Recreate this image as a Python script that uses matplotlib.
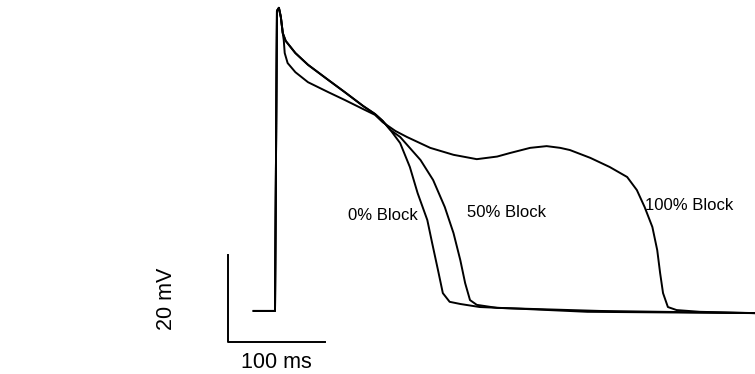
import matplotlib
matplotlib.use("Agg")
import matplotlib.pyplot as plt

# action potentials: time in ms, membrane voltage in mV
t_0 = [-23, -1, 1, 3, 5, 7, 10, 20, 33, 54, 71, 90, 102, 110, 118, 128, 138, 146,
       156, 161, 167, 172, 179, 190, 210, 252, 321, 494]
v_0 = [-85, -85, -16, -15.3, -17.4, -21.1, -22.9, -25.7, -28.4, -31.9, -34.7, -37.9,
       -39.7, -41.3, -43.4, -46.4, -51.9, -57.9, -64.1, -69.4, -75.6, -80.9, -82.9,
       -83.4, -84.1, -84.5, -85.2, -85.5]

t_50 = [-23, -1, 1, 3, 5, 7, 10, 20, 33, 54, 71, 90, 102, 110, 118, 128, 149, 162,
        174, 183, 190, 195, 200, 207, 228, 334, 494]
v_50 = [-85, -85, -16, -15.3, -17.4, -21.1, -22.9, -25.7, -28.4, -31.9, -34.7, -37.9,
        -39.7, -41.3, -43.4, -45.0, -50.3, -54.9, -61.1, -67.1, -73.3, -78.6, -82.5,
        -83.6, -84.3, -85.0, -85.5]

t_100 = [-23, -1, 1, 3, 5, 7, 8, 9, 12, 20, 33, 54, 71, 90, 102, 110, 123, 135, 159,
         183, 207, 228, 241, 262, 279, 293, 303, 324, 344, 362, 372, 380, 388, 393,
         396, 399, 404, 413, 437, 494]
v_100 = [-85, -85, -16, -15.3, -17.4, -21.1, -22.7, -25.7, -28.0, -30.1, -32.4, -34.7,
         -36.5, -38.6, -39.9, -41.6, -43.6, -45.0, -47.5, -49.1, -50.1, -49.5, -48.7,
         -47.5, -47.1, -47.5, -48.0, -49.8, -51.9, -54.2, -57.2, -61.1, -65.7, -71.0,
         -76.3, -80.9, -84.1, -84.8, -85.2, -85.5]

labels = ["0% Block", "50% Block", "100% Block"]

fig = plt.figure(figsize=(7.55, 3.74), dpi=100)
ax = fig.add_axes([0, 0, 1, 1])
ax.set_xlim(-284.5, 493.8)
ax.set_ylim(-99.5, -13.5)
ax.axis("off")

for t, v in [(t_0, v_0), (t_50, v_50), (t_100, v_100)]:
    ax.plot(t, v, color="black", lw=1.4, solid_joinstyle="round")

# scale bar 100 ms / 20 mV
ax.plot([-49.5, -49.5, 50.5], [-72.2, -92.2, -92.2], color="black", lw=1.4)
ax.text(0.5, -98.1, "100 ms", ha="center", va="baseline", fontsize=15.5,
        family="Liberation Sans")
ax.text(-112.4, -82.2, "20 mV", ha="center", va="center", rotation=90,
        fontsize=15.5, family="Liberation Sans")

# curve labels
ax.text(74.2, -64.2, labels[0], ha="left", va="baseline", fontsize=12,
        family="Liberation Sans")
ax.text(196.9, -63.5, labels[1], ha="left", va="baseline", fontsize=12,
        family="Liberation Sans")
ax.text(380.4, -61.9, labels[2], ha="left", va="baseline", fontsize=12,
        family="Liberation Sans")

fig.savefig("out.png", dpi=100)
